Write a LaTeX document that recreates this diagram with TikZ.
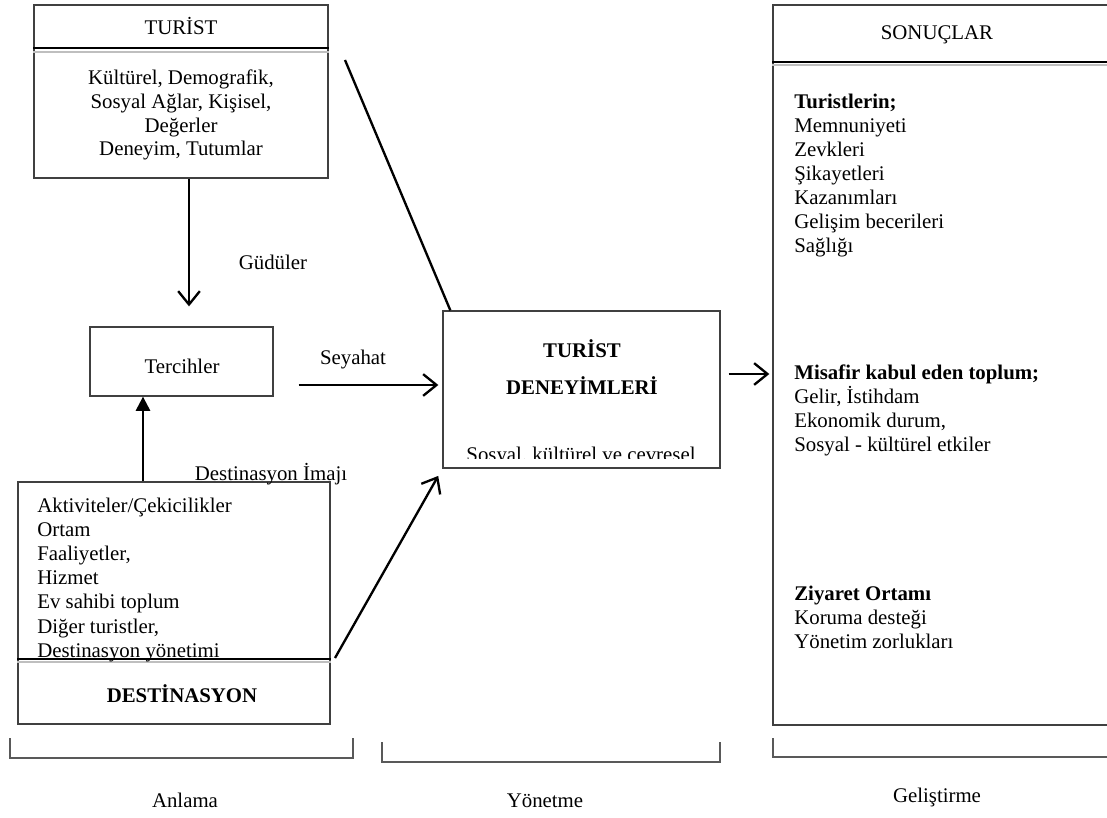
\documentclass[tikz,border=0pt]{standalone}
\usepackage{fontspec}
\setmainfont{Liberation Serif}
\usetikzlibrary{arrows.meta,fit,calc}
\begin{document}
\begin{tikzpicture}[x=0.6pt,y=-0.6pt,
  box/.style={draw=black!75,line width=0.8pt,inner sep=0pt},
  txt/.style={inner sep=0pt,font=\fontsize{12.5}{14}\selectfont},
  bold/.style={txt,font=\fontsize{12.5}{14}\selectfont\bfseries},
  openarr/.style={line width=1.4pt,-{Straight Barb[length=8pt,width=13pt]}},
  solidarr/.style={line width=1.4pt,-{Triangle[length=8.5pt,width=8.5pt]}},
  plain/.style={line width=1.4pt},
  bracket/.style={draw=black!65,line width=1pt},
  hdrdark/.style={draw=black,line width=0.8pt},
  hdrlight/.style={draw=black!25,line width=1.2pt}]

\clip (0,0) rectangle (1107,818);
\fill[white] (0,0) rectangle (1107,818);

% ---- boxes ----
\node[box,fit={(34,5) (328,178)}] (turist) {};
\node[box,fit={(90,327) (273,396)}] (tercih) {};
\node[box,fit={(18,482) (330,724)}] (dest) {};
\node[box,fit={(443,311) (720,468)}] (tde) {};
\node[box,fit={(773,5) (1125,725)}] (son) {};

% header separators
\draw[hdrdark] (turist.west |- 0,48) -- (turist.east |- 0,48);
\draw[hdrlight] (turist.west |- 0,52) -- (turist.east |- 0,52);
\draw[hdrdark] (dest.west |- 0,659) -- (dest.east |- 0,659);
\draw[hdrlight] (dest.west |- 0,662) -- (dest.east |- 0,662);
\draw[hdrdark] (son.west |- 0,62) -- (son.east |- 0,62);
\draw[hdrlight] (son.west |- 0,65) -- (son.east |- 0,65);

% ---- TURIST ----
\node[txt,anchor=base] (turisth) at (181,35) {TURİST};
\foreach \t [count=\i from 0] in {{Kültürel, Demografik,},{Sosyal Ağlar, Kişisel,},Değerler,{Deneyim, Tutumlar}}
  \node[txt,anchor=base] (tb\i) at (181,{85+23.6*\i}) {\t};

% ---- Tercihler ----
\node[txt,anchor=base] (tercihl) at (182,373) {Tercihler};

% ---- DESTINASYON ----
\foreach \t [count=\i from 0] in {Aktiviteler/Çekicilikler,Ortam,{Faaliyetler,},Hizmet,Ev sahibi toplum,{Diğer turistler,},Destinasyon yönetimi}
  \node[txt,anchor=base west] (db\i) at (37,{512+24.2*\i}) {\t};
\node[bold,anchor=base] (desth) at (182,702) {DESTİNASYON};

% ---- TURIST DENEYIMLERI ----
\node[bold,anchor=base] (tde1) at (582,357) {TURİST};
\node[bold,anchor=base] (tde2) at (582,394) {DENEYİMLERİ};
\begin{scope}
  \clip (tde.north west) rectangle ([yshift=6pt]tde.south east);
  \node[txt,anchor=base] (tde3) at (581,461) {Sosyal, kültürel ve çevresel};
\end{scope}

% ---- SONUCLAR ----
\node[txt,anchor=base] (sonh) at (937,40) {SONUÇLAR};
\node[bold,anchor=base west] (s0) at (794,109) {Turistlerin;};
\foreach \t [count=\i from 1] in {Memnuniyeti,Zevkleri,Şikayetleri,Kazanımları,Gelişim becerileri,Sağlığı}
  \node[txt,anchor=base west] (s\i) at (794,{109+23.9*\i}) {\t};
\node[bold,anchor=base west] (m0) at (794,380) {Misafir kabul eden toplum;};
\foreach \t [count=\i from 1] in {{Gelir, İstihdam},{Ekonomik durum,},Sosyal - kültürel etkiler}
  \node[txt,anchor=base west] (m\i) at (794,{380+23.8*\i}) {\t};
\node[bold,anchor=base west] (z0) at (794,600) {Ziyaret Ortamı};
\foreach \t [count=\i from 1] in {Koruma desteği,Yönetim zorlukları}
  \node[txt,anchor=base west] (z\i) at (794,{600+24.3*\i}) {\t};

% ---- connector labels ----
\node[txt,anchor=base] (gud) at (273,270) {Güdüler};
\node[txt,anchor=base] (sey) at (353,364) {Seyahat};
\node[txt,anchor=base] (dimg) at (271,480) {Destinasyon İmajı};

% ---- connectors ----
\coordinate (gx) at (189,0);
\draw[openarr,shorten >=12pt] (gx |- turist.south) -- (gx |- tercih.north);
\coordinate (ux) at (143,0);
\draw[solidarr] (ux |- dest.north) -- (ux |- tercih.south);
\coordinate (sy) at (0,385);
\draw[openarr,shorten <=15pt,shorten >=2.4pt] (tercih.east |- sy) -- (tde.west |- sy);
\coordinate (d0) at (335,658);
\draw[openarr,shorten >=5pt] (d0) -- (tde.south west);
\coordinate (t0) at (345,60);
\draw[plain] (t0) -- ([xshift=4.8pt]tde.north west);
\coordinate (oy) at (0,374);
\draw[openarr,shorten <=4.8pt,shorten >=1.8pt] (tde.east |- oy) -- (son.west |- oy);

% ---- phase brackets ----
\draw[bracket] (10,738) -- (10,758) -- (353,758) -- (353,738);
\draw[bracket] (382,742) -- (382,762) -- (720,762) -- (720,742);
\draw[bracket] (773,738) -- (773,757) -- (1125,757);

\node[txt,anchor=base] (ph1) at (185,807) {Anlama};
\node[txt,anchor=base] (ph2) at (545,807) {Yönetme};
\node[txt,anchor=base] (ph3) at (937,802) {Geliştirme};
\end{tikzpicture}
\end{document}
